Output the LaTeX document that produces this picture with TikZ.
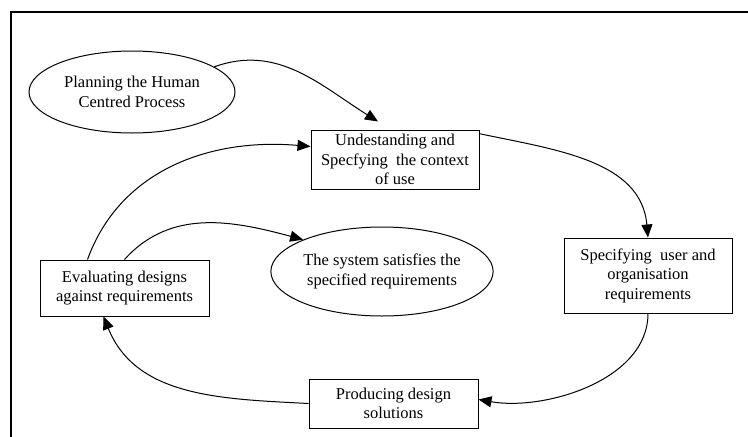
\documentclass[tikz,border=0pt]{standalone}
\usepackage{fontspec}
\setmainfont{Liberation Serif}
\usetikzlibrary{arrows.meta,shapes.geometric}

\begin{document}
\begin{tikzpicture}[x=1pt, y=-1pt,
    every node/.style={font=\fontsize{16.5}{19.5}\selectfont, align=center, inner sep=0pt},
    box/.style={draw, line width=1pt, rectangle},
    oval/.style={draw, line width=1pt, ellipse},
    arr/.style={-{Triangle[length=13pt,width=11pt]}, line width=1pt}]
        \useasboundingbox (0,0) rectangle (748,437);
        % Draw frame
        \draw[line width=2pt] (11,437) -- (11,12) -- (748,12);

        % Ovals
        \node[oval, minimum width=206pt, minimum height=82pt] (plan) at (132,92)
          {Planning the Human\\Centred Process};
        \node[oval, minimum width=206pt, minimum height=89pt] (sys) at (382,271.5)
          {The system satisfies the\\specified requirements};

        % Boxes
        \node[box, minimum width=168pt, minimum height=59pt] (und) at (395,159.5)
          {Undestanding and\\Specfying\ \ the context\\of use};
        \node[box, minimum width=168pt, minimum height=75pt] (spec) at (648,275.5)
          {Specifying\ \ user and\\organisation\\requirements};
        \node[box, minimum width=169pt, minimum height=49pt] (prod) at (393.5,403.5)
          {Producing design\\solutions};
        \node[box, minimum width=169pt, minimum height=56pt] (eval) at (124.5,288)
          {Evaluating designs\\against requirements};

        % Connectors
        \draw[arr] (plan.17) to[out=20, in=148] ([xshift=-17pt, yshift=8pt]und.north);
        \draw[arr] (und.17) to[out=-12, in=95] (spec.north);
        \draw[arr] (spec.south) to[out=-90, in=-10, looseness=0.9] ([yshift=4pt]prod.east);
        \draw[arr] (prod.west) to[out=177, in=-68] ([xshift=-21pt]eval.south);
        \draw[arr] ([xshift=-37pt]eval.north) to[out=70, in=175] ([yshift=13pt]und.west);
        \draw[arr] (eval.north) to[out=48, in=165] (sys.158);
    \end{tikzpicture}
\end{document}
